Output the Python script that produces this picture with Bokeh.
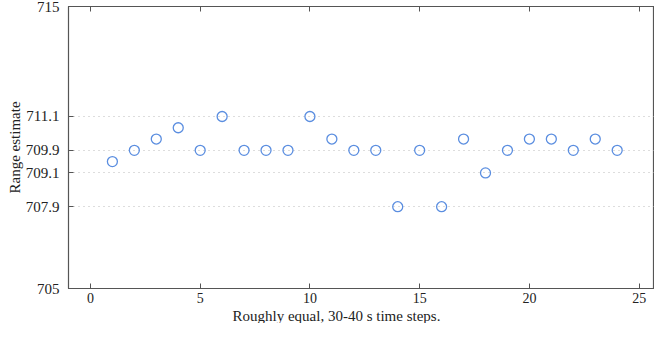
from bokeh.plotting import figure
from bokeh.models import Range1d, FixedTicker, LinearAxis, ColumnDataSource, Title
from bokeh.embed import file_html
from bokeh.resources import INLINE

steps = list(range(1, 25))
estimates = [709.5, 709.9, 710.3, 710.7, 709.9, 711.1, 709.9, 709.9, 709.9, 711.1,
             710.3, 709.9, 709.9, 707.9, 709.9, 707.9, 710.3, 709.1, 709.9, 710.3,
             710.3, 709.9, 710.3, 709.9]
y_ticks = [705, 707.9, 709.1, 709.9, 711.1, 715]
y_tick_labels = ["705", "707.9", "709.1", "709.9", "711.1", "715"]
grid_ticks = [707.9, 709.1, 709.9, 711.1]
x_ticks = [0, 5, 10, 15, 20, 25]

FONT = "Liberation Serif"
AX = "#555555"
TXT = "#222222"

p = figure(width=654, height=323, x_range=Range1d(-1, 25.7), y_range=Range1d(705, 715),
           output_backend="svg", toolbar_location=None,
           min_border_left=68, min_border_right=0, min_border_top=6, min_border_bottom=20)

src = ColumnDataSource(dict(x=steps, y=estimates))
p.scatter("x", "y", source=src, marker="circle", size=10, fill_color=None,
          line_color="#5b8ee0", line_width=1.3)

p.outline_line_color = AX
p.outline_line_width = 1.2

# y axis
p.yaxis.ticker = FixedTicker(ticks=y_ticks)
p.yaxis.major_label_overrides = {t: l for t, l in zip(y_ticks, y_tick_labels)}
p.yaxis.axis_label = "Range estimate"
p.yaxis.axis_label_text_font = FONT
p.yaxis.axis_label_text_font_style = "normal"
p.yaxis.axis_label_text_font_size = "15px"
p.yaxis.axis_label_text_color = TXT
p.yaxis.axis_label_standoff = 0
p.yaxis.major_label_text_font = FONT
p.yaxis.major_label_text_font_size = "15px"
p.yaxis.major_label_text_color = TXT
p.yaxis.major_tick_in = 5
p.yaxis.major_tick_out = 0
p.yaxis.minor_tick_line_color = None
p.yaxis.axis_line_color = AX
p.yaxis.major_tick_line_color = AX
p.yaxis.major_label_standoff = 9

# x axis
p.xaxis.ticker = FixedTicker(ticks=x_ticks)
p.xaxis.major_label_text_font = FONT
p.xaxis.major_label_text_font_size = "14px"
p.xaxis.major_label_text_color = TXT
p.xaxis.major_tick_in = 5
p.xaxis.major_tick_out = 0
p.xaxis.minor_tick_line_color = None
p.xaxis.axis_line_color = AX
p.xaxis.major_tick_line_color = AX
p.xaxis.major_label_standoff = 4

# x axis label, offset to the left as in the reference
xlabel = Title(text="Roughly equal, 30-40 s time steps.", align="left", offset=164,
               text_font=FONT, text_font_style="normal", text_font_size="15px",
               text_color=TXT, standoff=0)
p.add_layout(xlabel, "below")

# top ticks
top = LinearAxis(ticker=FixedTicker(ticks=x_ticks), major_tick_in=5, major_tick_out=0,
                 minor_tick_line_color=None,
                 major_label_overrides={t: "" for t in x_ticks},
                 major_label_standoff=0, axis_line_color=AX, major_tick_line_color=AX)
p.add_layout(top, "above")

# grid
p.xgrid.visible = False
p.ygrid.ticker = FixedTicker(ticks=grid_ticks)
p.ygrid.grid_line_color = "#bbbbbb"
p.ygrid.grid_line_dash = "1 4"
p.ygrid.grid_line_width = 1

open("out.html", "w").write(file_html(p, INLINE))
